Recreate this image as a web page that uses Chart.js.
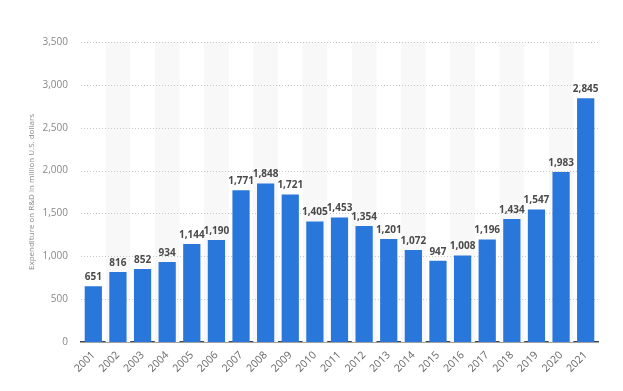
<!DOCTYPE html>
<html><head><meta charset="utf-8">
<script src="https://cdn.jsdelivr.net/npm/chart.js@4.4.0/dist/chart.umd.min.js"></script>
<style>html,body{margin:0;padding:0;background:#fff}#c{display:block}</style>
</head><body>
<canvas id="c" width="623" height="391"></canvas>
<script>
const years = ["2001","2002","2003","2004","2005","2006","2007","2008","2009","2010","2011","2012","2013","2014","2015","2016","2017","2018","2019","2020","2021"];
const expenditure = [651,816,852,934,1144,1190,1771,1848,1721,1405,1453,1354,1201,1072,947,1008,1196,1434,1547,1983,2845];
const yTicks = [0,500,1000,1500,2000,2500,3000,3500];
const yTitle = "Expenditure on R&D in million U.S. dollars";

const bands = {
  id:'bands',
  beforeDatasetsDraw(chart){
    const {ctx, scales:{x,y}} = chart;
    ctx.save();
    ctx.fillStyle = '#f8f8f8';
    const w = x.getPixelForValue(1) - x.getPixelForValue(0);
    const top = y.getPixelForValue(3500), bot = y.getPixelForValue(0);
    for(let i=1;i<years.length;i+=2){
      const cx = x.getPixelForValue(i);
      ctx.fillRect(cx - w/2, top, w, bot-top);
    }
    ctx.restore();
  }
};
const grid = {
  id:'dotgrid',
  beforeDatasetsDraw(chart){
    const {ctx, chartArea:a, scales:{y}} = chart;
    ctx.save();
    ctx.strokeStyle = '#c8c8c8';
    ctx.lineWidth = 1;
    ctx.setLineDash([1,2]);
    yTicks.forEach(v=>{
      if(v===0) return;
      const py = Math.round(y.getPixelForValue(v)) + 0.5;
      ctx.beginPath(); ctx.moveTo(a.left, py); ctx.lineTo(a.right, py); ctx.stroke();
    });
    ctx.restore();
  }
};
const labels = {
  id:'labels',
  afterDatasetsDraw(chart){
    const {ctx} = chart;
    const meta = chart.getDatasetMeta(0);
    ctx.save();
    ctx.font = 'bold 10px "Open Sans", sans-serif';
    ctx.fillStyle = '#4a4a4a';
    ctx.textAlign = 'center';
    ctx.textBaseline = 'bottom';
    meta.data.forEach((b,i)=>{
      ctx.fillText(expenditure[i].toLocaleString('en-US'), b.x, b.y - 4);
    });
    ctx.restore();
  }
};
new Chart(document.getElementById('c'), {
  type:'bar',
  data:{labels:years, datasets:[{data:expenditure, backgroundColor:'#2a77dc', barPercentage:0.7, categoryPercentage:1.0}]},
  options:{
    responsive:false, animation:false,
    layout:{padding:{top:42, right:25, left:27, bottom:0}},
    plugins:{legend:{display:false}, tooltip:{enabled:false}},
    scales:{
      x:{
        grid:{display:false, drawTicks:false},
        border:{display:true, color:'#444', width:1.5},
        ticks:{color:'#666', font:{family:'"Open Sans", sans-serif', size:10.5}, maxRotation:45, minRotation:45, padding:7, autoSkip:false},
        afterFit(s){ s.height = 49; }
      },
      y:{
        min:0, max:3500,
        afterBuildTicks(s){ s.ticks = yTicks.map(v=>({value:v})); },
        grid:{display:false, drawTicks:false},
        border:{display:false},
        ticks:{color:'#888', font:{family:'"Open Sans", sans-serif', size:10}, padding:13, callback:v=>v.toLocaleString('en-US')},
        title:{display:true, text:yTitle, color:'#888', font:{family:'"Open Sans", sans-serif', size:8}, padding:{top:0,bottom:0}},
        afterFit(s){ s.width = 54; }
      }
    }
  },
  plugins:[bands, grid, labels]
});
</script>
</body></html>
